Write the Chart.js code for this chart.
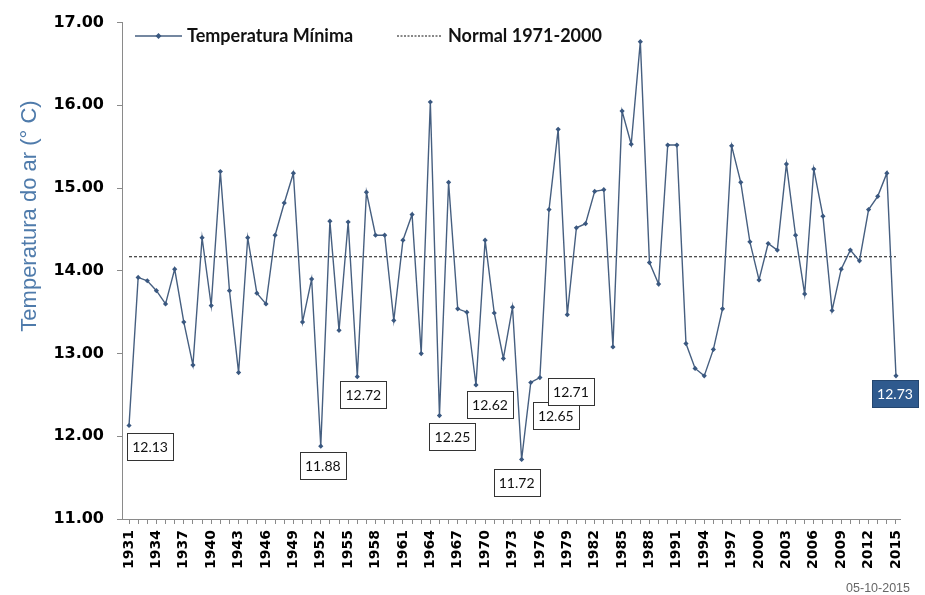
<!DOCTYPE html>
<html>
<head>
<meta charset="utf-8">
<script src="https://cdn.jsdelivr.net/npm/chart.js@4/dist/chart.umd.min.js"></script>
<style>
html,body{margin:0;padding:0;background:#fff;}
#wrap{width:925px;height:595px;position:relative;}
</style>
</head>
<body>
<div id="wrap"><canvas id="c" width="925" height="595"></canvas></div>
<script>
// ---- data ----
const years = [];
for (let y = 1931; y <= 2015; y++) years.push(y);

const tempMin = [
  12.13, 13.92, 13.88, 13.76, 13.60, 14.02, 13.38, 12.86, 14.40, 13.58,
  15.20, 13.76, 12.77, 14.40, 13.73, 13.60, 14.43, 14.82, 15.18, 13.38,
  13.90, 11.88, 14.60, 13.28, 14.59, 12.72, 14.95, 14.43, 14.43, 13.40,
  14.37, 14.68, 13.00, 16.04, 12.25, 15.07, 13.54, 13.50, 12.62, 14.37,
  13.49, 12.94, 13.56, 11.72, 12.65, 12.71, 14.74, 15.71, 13.47, 14.52,
  14.57, 14.96, 14.98, 13.08, 15.93, 15.53, 16.77, 14.10, 13.84, 15.52,
  15.52, 13.12, 12.82, 12.73, 13.05, 13.54, 15.51, 15.07, 14.35, 13.89,
  14.33, 14.25, 15.29, 14.43, 13.72, 15.23, 14.66, 13.52, 14.02, 14.25,
  14.12, 14.74, 14.90, 15.18, 12.73
];

const normalValue = 14.17;
const labeledYears = [1931, 1952, 1956, 1965, 1969, 1974, 1975, 1976, 2015];
const yTicks = [11, 12, 13, 14, 15, 16, 17];

const seriesName = 'Temperatura Mínima';
const normalName = 'Normal 1971-2000';
const yTitle = 'Temperatura do ar (° C)';
const dateStamp = '05-10-2015';

// ---- styling ----
const lineColor = '#465f80';
const markerColor = '#3a5880';

// label box offsets (pixels, relative to point) – styling only
const labelStyle = {
  1931: {dx: 21, dy: 21},
  1952: {dx: 2, dy: 19},
  1956: {dx: 6, dy: 18},
  1965: {dx: 13, dy: 21},
  1969: {dx: 14, dy: 20},
  1974: {dx: -5, dy: 23},
  1975: {dx: 25, dy: 33},
  1976: {dx: 31, dy: 14},
  2015: {dx: -1, dy: 18, fill: '#2f5a8e', color: '#ffffff'}
};

const annotPlugin = {
  id: 'annot',
  afterDatasetsDraw(chart) {
    const ctx = chart.ctx;
    const meta = chart.getDatasetMeta(0);
    ctx.save();
    ctx.font = '14px Lato';
    ctx.textAlign = 'center';
    ctx.textBaseline = 'middle';
    labeledYears.forEach(yr => {
      const i = years.indexOf(yr);
      const pt = meta.data[i];
      const st = labelStyle[yr] || {dx: 0, dy: 20};
      const cx = pt.x + st.dx, cy = pt.y + st.dy;
      const w = 46, h = 27;
      ctx.fillStyle = st.fill || '#ffffff';
      ctx.fillRect(Math.round(cx - w / 2) + 0.5, Math.round(cy - h / 2) + 0.5, w, h);
      ctx.strokeStyle = st.fill ? '#24466f' : '#333333';
      ctx.lineWidth = 1;
      ctx.strokeRect(Math.round(cx - w / 2) + 0.5, Math.round(cy - h / 2) + 0.5, w, h);
      ctx.fillStyle = st.color || '#111111';
      ctx.fillText(tempMin[i].toFixed(2), cx, cy + 1);
    });
    ctx.restore();
  },
  afterDraw(chart) {
    const ctx = chart.ctx;
    ctx.save();
    // Legend
    const ly = 36;
    ctx.strokeStyle = lineColor;
    ctx.lineWidth = 1.4;
    ctx.beginPath(); ctx.moveTo(135, ly); ctx.lineTo(182, ly); ctx.stroke();
    ctx.fillStyle = markerColor;
    ctx.beginPath();
    ctx.moveTo(158.5, ly - 3); ctx.lineTo(161.5, ly); ctx.lineTo(158.5, ly + 3); ctx.lineTo(155.5, ly);
    ctx.closePath(); ctx.fill();
    ctx.font = 'bold 18px Lato';
    ctx.fillStyle = '#111111';
    ctx.textBaseline = 'middle';
    ctx.textAlign = 'left';
    ctx.fillText(seriesName, 187, ly);
    ctx.strokeStyle = '#111111';
    ctx.lineWidth = 1;
    ctx.setLineDash([2, 1.5]);
    ctx.beginPath(); ctx.moveTo(397, ly); ctx.lineTo(441, ly); ctx.stroke();
    ctx.setLineDash([]);
    ctx.fillText(normalName, 448, ly);
    // Y title
    ctx.save();
    ctx.translate(30, 216);
    ctx.rotate(-Math.PI / 2);
    ctx.font = '22px "Liberation Sans"';
    ctx.fillStyle = '#4f7bab';
    ctx.textAlign = 'center';
    ctx.fillText(yTitle, 0, 0);
    ctx.restore();
    // date stamp
    ctx.font = '12.5px "Liberation Sans"';
    ctx.fillStyle = '#666666';
    ctx.textAlign = 'right';
    ctx.fillText(dateStamp, 910, 589);
    ctx.restore();
  }
};

new Chart(document.getElementById('c'), {
  type: 'line',
  data: {
    datasets: [
      {
        label: seriesName,
        data: years.map((y, i) => ({x: y, y: tempMin[i]})),
        borderColor: lineColor,
        backgroundColor: markerColor,
        borderWidth: 1.4,
        pointStyle: 'rectRot',
        pointRadius: 2.6,
        pointBorderWidth: 0,
        pointBackgroundColor: markerColor,
        tension: 0,
        order: 1
      },
      {
        label: normalName,
        data: years.map(y => ({x: y, y: normalValue})),
        borderColor: '#111111',
        borderWidth: 1.1,
        borderDash: [3, 2],
        pointRadius: 0,
        tension: 0,
        order: 2
      }
    ]
  },
  options: {
    responsive: false,
    animation: false,
    layout: {padding: {left: 0, right: 25, top: 20, bottom: 0}},
    plugins: {legend: {display: false}, tooltip: {enabled: false}},
    scales: {
      x: {
        type: 'linear',
        min: 1930.23,
        max: 2015.44,
        afterBuildTicks: s => { s.ticks = years.map(v => ({value: v})); },
        afterFit: s => { s.height = 76; },
        ticks: {
          autoSkip: false,
          maxRotation: 90,
          minRotation: 90,
          padding: 6,
          color: '#000000',
          font: {family: 'DejaVu Sans', weight: 'bold', size: 14},
          callback: v => ((v - 1931) % 3 === 0 ? String(v) : '')
        },
        grid: {drawOnChartArea: false, drawTicks: true, tickLength: 5, color: '#8a8a8a'},
        border: {display: true, color: '#8a8a8a', width: 1}
      },
      y: {
        min: 11,
        max: 17,
        afterBuildTicks: s => { s.ticks = yTicks.map(v => ({value: v})); },
        afterFit: s => { s.width = 122; },
        ticks: {
          padding: 13,
          color: '#000000',
          font: {family: 'DejaVu Sans', weight: 'bold', size: 16},
          callback: v => Number(v).toFixed(2)
        },
        grid: {drawOnChartArea: false, drawTicks: true, tickLength: 5, color: '#8a8a8a'},
        border: {display: true, color: '#8a8a8a', width: 1}
      }
    }
  },
  plugins: [annotPlugin]
});
</script>
</body>
</html>
